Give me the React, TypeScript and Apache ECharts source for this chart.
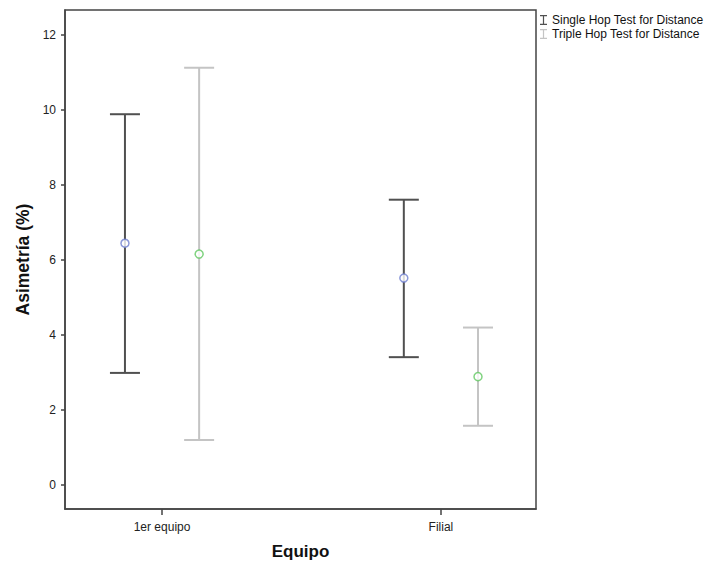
import React, { useEffect, useRef } from "react";
import * as echarts from "echarts";

const categories = ["1er equipo", "Filial"];
const seriesNames = ["Single Hop Test for Distance", "Triple Hop Test for Distance"];
const singleMean = [6.45, 5.52];
const singleLow = [2.99, 3.41];
const singleHigh = [9.89, 7.61];
const tripleMean = [6.16, 2.89];
const tripleLow = [1.2, 1.58];
const tripleHigh = [11.13, 4.2];
const yTicks = [0, 2, 4, 6, 8, 10, 12];

const OFFSET = 0.133;
const FONT = "'Liberation Sans', Arial, sans-serif";
const LINE_COLORS = ["#505050", "#c4c4c4"];
const MARK_COLORS = ["#6f7fcf", "#62c862"];

const ICON = "path://M0,0h7v1.2H0z M2.9,1.2h1.2v7.6H2.9z M0,8.8h7V10H0z";

function errorSeries(name: string, low: number[], high: number[], offset: number, color: string) {
  return {
    type: "custom",
    name,
    itemStyle: { color },
    data: categories.map((_, i) => [i + offset, low[i], high[i]]),
    renderItem: (params: any, api: any) => {
      const x = api.value(0);
      const lo = api.coord([x, api.value(1)]);
      const hi = api.coord([x, api.value(2)]);
      const hw = 15;
      const style = { stroke: color, lineWidth: 2 };
      return {
        type: "group",
        children: [
          { type: "line", shape: { x1: lo[0], y1: lo[1], x2: hi[0], y2: hi[1] }, style },
          { type: "line", shape: { x1: hi[0] - hw, y1: hi[1], x2: hi[0] + hw, y2: hi[1] }, style },
          { type: "line", shape: { x1: lo[0] - hw, y1: lo[1], x2: lo[0] + hw, y2: lo[1] }, style },
        ],
      };
    },
    z: 2,
  };
}

function meanSeries(mean: number[], offset: number, color: string) {
  return {
    type: "scatter",
    name: "mean-" + color,
    data: categories.map((_, i) => [i + offset, mean[i]]),
    symbol: "circle",
    symbolSize: 8,
    itemStyle: { color: "#ffffff", borderColor: color, borderWidth: 1.5 },
    z: 5,
  };
}

export default function App() {
  const ref = useRef<HTMLDivElement>(null);
  useEffect(() => {
    if (!ref.current) return;
    const chart = echarts.init(ref.current, null, { renderer: "svg" });
    const axisColor = "#444444";
    chart.setOption({
      animation: false,
      backgroundColor: "#ffffff",
      textStyle: { fontFamily: FONT },
      grid: {
        left: 65,
        right: 181,
        top: 10,
        bottom: 53,
        show: true,
        outerBoundsMode: "none",
        containLabel: false,
        borderColor: axisColor,
        borderWidth: 1.5,
        backgroundColor: "transparent",
      },
      legend: {
        orient: "vertical",
        left: 535,
        top: 9,
        itemGap: 2,
        itemWidth: 7,
        itemHeight: 10,
        data: seriesNames.map((n) => ({ name: n, icon: ICON })),
        textStyle: { fontSize: 12, color: "#111", fontFamily: FONT },
        selectedMode: false,
      },
      xAxis: {
        type: "value",
        min: -0.348,
        max: 1.341,
        name: "Equipo",
        nameLocation: "middle",
        nameGap: 34,
        nameTextStyle: { fontSize: 17, fontWeight: "bold", color: "#111", fontFamily: FONT },
        axisLine: { show: true, onZero: false, lineStyle: { color: axisColor, width: 1.5 } },
        axisTick: { show: true, length: 6, customValues: [0, 1], lineStyle: { color: axisColor, width: 1.5 } },
        axisLabel: {
          customValues: [0, 1],
          formatter: (v: number) => categories[Math.round(v)] ?? "",
          fontSize: 12,
          color: "#222",
          margin: 12,
          fontFamily: FONT,
        },
        splitLine: { show: false },
      },
      yAxis: {
        type: "value",
        min: -0.64,
        max: 12.67,
        name: "Asimetría (%)",
        nameLocation: "middle",
        nameGap: 30,
        nameTextStyle: { fontSize: 17.5, fontWeight: "bold", color: "#111", fontFamily: FONT },
        axisLine: { show: true, onZero: false, lineStyle: { color: axisColor, width: 1.5 } },
        axisTick: { show: true, length: 4, customValues: yTicks, lineStyle: { color: axisColor, width: 1.5 } },
        axisLabel: { customValues: yTicks, fontSize: 12, color: "#222", margin: 9, fontFamily: FONT },
        splitLine: { show: false },
      },
      series: [
        errorSeries(seriesNames[0], singleLow, singleHigh, -OFFSET, LINE_COLORS[0]),
        errorSeries(seriesNames[1], tripleLow, tripleHigh, OFFSET, LINE_COLORS[1]),
        meanSeries(singleMean, -OFFSET, MARK_COLORS[0]),
        meanSeries(tripleMean, OFFSET, MARK_COLORS[1]),
      ],
    });
    return () => chart.dispose();
  }, []);
  return <div ref={ref} style={{ width: 717, height: 562, position: "absolute", left: 0, top: 0 }} />;
}
